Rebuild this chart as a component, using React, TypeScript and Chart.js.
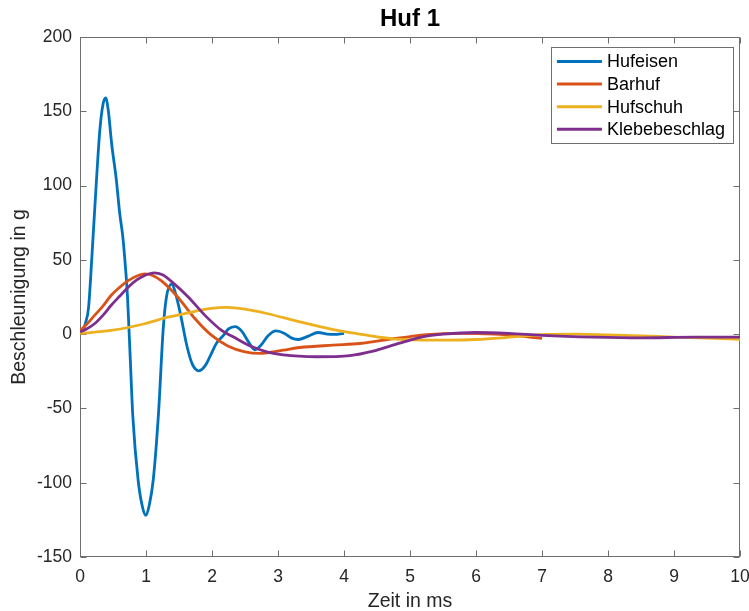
import React, { useEffect, useRef } from "react";
import { Chart, registerables } from "chart.js";

Chart.register(...registerables);

const FONT = "'Liberation Sans', Arial, Helvetica, sans-serif";
const TITLE = "Huf 1";
const X_LABEL = "Zeit in ms";
const Y_LABEL = "Beschleunigung in g";

const X_MIN = 0;
const X_MAX = 10;
const X_STEP = 1;
const Y_MIN = -150;
const Y_MAX = 200;
const Y_STEP = 50;

const SERIES_NAMES = ["Hufeisen", "Barhuf", "Hufschuh", "Klebebeschlag"];
const SERIES_COLORS = ["#0072BD", "#D95319", "#EDB120", "#7E2F8E"];

// Hufeisen
const hufeisenT = [0, 0.04, 0.08, 0.13, 0.18, 0.25, 0.3, 0.35, 0.39, 0.43, 0.48, 0.55, 0.6, 0.65, 0.68, 0.72, 0.76, 0.8, 0.88, 0.95, 1.0, 1.05, 1.11, 1.19, 1.26, 1.31, 1.39, 1.45, 1.52, 1.62, 1.7, 1.8, 1.9, 1.97, 2.07, 2.17, 2.25, 2.35, 2.45, 2.55, 2.65, 2.75, 2.85, 2.97, 3.1, 3.2, 3.31, 3.45, 3.61, 3.75, 3.85, 4.0];
const hufeisenV = [0, 2, 7, 18, 52, 104, 137, 155, 159, 150, 128, 104, 82, 65, 50, 25, -15, -55, -98, -117, -122, -115, -98, -53, 3, 25, 33.6, 27, 14, -8, -20, -24.7, -21, -15, -6, -1, 3.5, 5, 2, -5, -10.5, -7, -1, 2.2, 0.5, -2.5, -3.6, -1.5, 1.1, 0, -0.2, 0.5];

// Barhuf
const barhufT = [0, 0.1, 0.22, 0.35, 0.47, 0.6, 0.73, 0.88, 0.98, 1.1, 1.23, 1.48, 1.74, 1.99, 2.24, 2.5, 2.73, 3.08, 3.33, 3.84, 4.24, 4.74, 5.0, 5.25, 5.76, 6.27, 6.78, 7.0];
const barhufV = [2.5, 6.5, 12.6, 19, 26, 31.5, 36, 39.5, 40.5, 39.5, 36, 25, 10.5, -0.7, -7.9, -11.9, -13, -10.8, -9, -7.4, -6.3, -3.1, -1.6, -0.4, 0.5, 0, -1.8, -2.8];

// Hufschuh
const hufschuhT = [0, 0.47, 0.98, 1.33, 1.6, 1.99, 2.22, 2.5, 2.83, 3.33, 3.84, 4.24, 4.5, 4.85, 5.2, 5.6, 6.0, 6.4, 7.0, 7.5, 8.0, 8.5, 9.0, 9.5, 10];
const hufschuhV = [0.5, 2.5, 7, 11.4, 14, 17.3, 18, 16.8, 13.9, 8.3, 3.1, 0, -1.8, -3.5, -4, -4, -3.6, -2.5, -0.3, 0, -0.5, -1.2, -2, -2.7, -3.5];

// Klebebeschlag
const klebeT = [0, 0.1, 0.22, 0.35, 0.47, 0.6, 0.73, 0.86, 0.98, 1.12, 1.25, 1.38, 1.64, 1.89, 2.14, 2.32, 2.58, 2.83, 3.08, 3.59, 4.09, 4.44, 4.74, 5.0, 5.25, 5.5, 6.0, 6.5, 7.0, 7.78, 8.5, 9.3, 10];
const klebeV = [1.5, 3.5, 7, 12.8, 19.3, 25.5, 31.6, 36.5, 39.5, 41.3, 40, 35.7, 25, 12.8, 2.7, -1.8, -8, -11.9, -14, -15.2, -14.4, -11.4, -7.4, -4, -1.3, 0, 1.1, 0.5, -0.8, -2, -2.5, -2, -2];

const SERIES_T = [hufeisenT, barhufT, hufschuhT, klebeT];
const SERIES_V = [hufeisenV, barhufV, hufschuhV, klebeV];

const AXIS_COLOR = "#262626";
const FRAME_COLOR = "#6e6e6e";

const framePlugin = {
  id: "matlabFrame",
  beforeDatasetsDraw(chart: any) {
    const { ctx, chartArea: a, scales } = chart;
    ctx.save();
    ctx.strokeStyle = FRAME_COLOR;
    ctx.lineWidth = 1;
    const L = Math.round(a.left) + 0.5;
    const R = Math.round(a.right) - 0.5;
    const T = Math.round(a.top) + 0.5;
    const B = Math.round(a.bottom) - 0.5;
    ctx.strokeRect(L, T, R - L, B - T);
    const tl = 6;
    ctx.beginPath();
    scales.x.ticks.forEach((t: any) => {
      const px = Math.round(scales.x.getPixelForValue(t.value)) + 0.5;
      ctx.moveTo(px, B);
      ctx.lineTo(px, B - tl);
      ctx.moveTo(px, T);
      ctx.lineTo(px, T + tl);
    });
    scales.y.ticks.forEach((t: any) => {
      const py = Math.round(scales.y.getPixelForValue(t.value)) + 0.5;
      ctx.moveTo(L, py);
      ctx.lineTo(L + tl, py);
      ctx.moveTo(R, py);
      ctx.lineTo(R - tl, py);
    });
    ctx.stroke();
    ctx.restore();
  },
  afterDraw(chart: any) {
    const { ctx, chartArea: a } = chart;
    const ds = chart.data.datasets;
    ctx.save();
    ctx.font = `18px ${FONT}`;
    let maxW = 0;
    ds.forEach((d: any) => {
      maxW = Math.max(maxW, ctx.measureText(d.label).width);
    });
    const rowH = 22.6;
    const boxW = 56 + maxW + 8;
    const boxH = rowH * ds.length + 6;
    const right = Math.round(a.right) - 7;
    const left = right - boxW;
    const top = Math.round(a.top) + 10;
    ctx.fillStyle = "#ffffff";
    ctx.fillRect(left, top, boxW, boxH);
    ctx.strokeStyle = FRAME_COLOR;
    ctx.lineWidth = 1;
    ctx.strokeRect(Math.round(left) + 0.5, top + 0.5, Math.round(boxW), Math.round(boxH));
    ds.forEach((d: any, i: number) => {
      const y = top + 14.5 + i * rowH;
      ctx.strokeStyle = d.borderColor;
      ctx.lineWidth = 3;
      ctx.beginPath();
      ctx.moveTo(left + 6, y);
      ctx.lineTo(left + 51, y);
      ctx.stroke();
      ctx.fillStyle = "#000000";
      ctx.textBaseline = "middle";
      ctx.textAlign = "left";
      ctx.fillText(d.label, left + 56, y + 1);
    });
    ctx.restore();
  },
};

export default function App() {
  const ref = useRef<HTMLCanvasElement | null>(null);

  useEffect(() => {
    if (!ref.current) return;
    const datasets = SERIES_NAMES.map((name, i) => ({
      label: name,
      data: SERIES_T[i].map((t, j) => ({ x: t, y: SERIES_V[i][j] })),
      borderColor: SERIES_COLORS[i],
      backgroundColor: SERIES_COLORS[i],
      borderWidth: 2.8,
      pointRadius: 0,
      fill: false,
      cubicInterpolationMode: "monotone" as const,
      order: SERIES_NAMES.length - i,
    }));

    const chart = new Chart(ref.current, {
      type: "line",
      data: { datasets },
      options: {
        animation: false,
        responsive: false,
        devicePixelRatio: 1,
        layout: { padding: { left: 0, right: 9, top: 0, bottom: 0 } },
        plugins: {
          legend: { display: false },
          tooltip: { enabled: false },
          title: {
            display: true,
            text: TITLE,
            fullSize: false,
            color: "#000000",
            font: { family: FONT, size: 24, weight: "bold", lineHeight: 1.1 },
            padding: { top: 6, bottom: 4.6 },
          },
        },
        scales: {
          x: {
            type: "linear",
            min: X_MIN,
            max: X_MAX,
            grid: { display: false, drawTicks: false },
            border: { display: false },
            ticks: {
              stepSize: X_STEP,
              color: AXIS_COLOR,
              font: { family: FONT, size: 17.5 },
              padding: 10,
              maxRotation: 0,
            },
            title: {
              display: true,
              text: X_LABEL,
              color: AXIS_COLOR,
              font: { family: FONT, size: 19.5, lineHeight: 1 },
              padding: { top: 0, bottom: 0 },
            },
            afterFit(scale: any) {
              scale.height = 54;
              scale.paddingLeft = 0;
              scale.paddingRight = 0;
            },
          },
          y: {
            type: "linear",
            min: Y_MIN,
            max: Y_MAX,
            grid: { display: false, drawTicks: false },
            border: { display: false },
            ticks: {
              stepSize: Y_STEP,
              color: AXIS_COLOR,
              font: { family: FONT, size: 17.5 },
              padding: 8,
            },
            title: {
              display: true,
              text: Y_LABEL,
              color: AXIS_COLOR,
              font: { family: FONT, size: 19.5, lineHeight: 1 },
              padding: { top: 10, bottom: 0 },
            },
            afterFit(scale: any) {
              scale.width = 80;
              scale.paddingTop = 0;
              scale.paddingBottom = 0;
            },
          },
        },
      },
      plugins: [framePlugin],
    });
    return () => chart.destroy();
  }, []);

  return (
    <div style={{ position: "fixed", left: 0, top: 0, width: 749, height: 611, background: "#ffffff" }}>
      <canvas ref={ref} width={749} height={611} style={{ display: "block" }} />
    </div>
  );
}
